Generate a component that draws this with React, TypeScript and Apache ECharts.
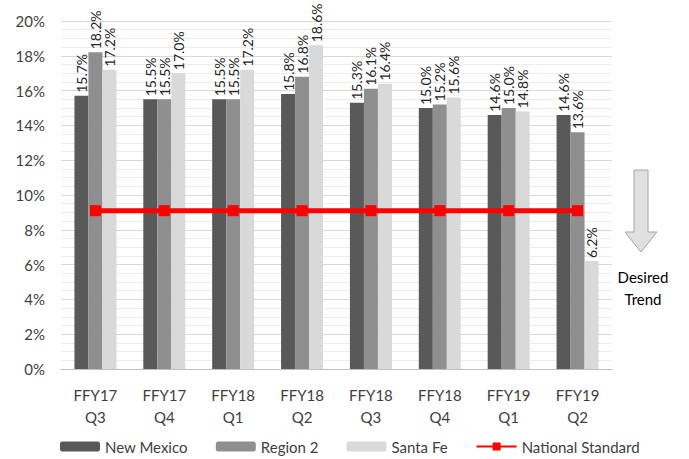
import React, { useEffect, useRef } from "react";
import * as echarts from "echarts";

const categories = ["FFY17\nQ3", "FFY17\nQ4", "FFY18\nQ1", "FFY18\nQ2", "FFY18\nQ3", "FFY18\nQ4", "FFY19\nQ1", "FFY19\nQ2"];
const newMexico = [15.7, 15.5, 15.5, 15.8, 15.3, 15.0, 14.6, 14.6];
const region2 = [18.2, 15.5, 15.5, 16.8, 16.1, 15.2, 15.0, 13.6];
const santaFe = [17.2, 17.0, 17.2, 18.6, 16.4, 15.6, 14.8, 6.2];
const nationalStandard = [9.1, 9.1, 9.1, 9.1, 9.1, 9.1, 9.1, 9.1];

const FONT = "Lato, 'Open Sans', sans-serif";

export default function App() {
  const ref = useRef<HTMLDivElement>(null);
  useEffect(() => {
    if (!ref.current) return;
    const chart = echarts.init(ref.current, null, { renderer: "svg" });
    const barLabel = {
      show: true,
      position: "top" as const,
      rotate: 90,
      align: "left" as const,
      verticalAlign: "middle" as const,
      distance: 3,
      fontSize: 14,
      fontFamily: FONT,
      color: "#262626",
      formatter: (p: any) => p.value.toFixed(1) + "%",
    };
    chart.setOption({
      animation: false,
      textStyle: { fontFamily: FONT },
      grid: { left: 61, right: 77, top: 21, bottom: 90, containLabel: false },
      legend: {
        bottom: 0,
        left: 55,
        itemGap: 28,
        itemWidth: 40,
        itemHeight: 10,
        textStyle: { fontSize: 15, color: "#404040", fontFamily: FONT },
        data: [
          { name: "New Mexico" },
          { name: "Region 2" },
          { name: "Santa Fe" },
          { name: "National Standard" },
        ],
      },
      xAxis: {
        type: "category",
        data: categories,
        axisTick: { show: false },
        axisLine: { lineStyle: { color: "#bfbfbf" } },
        axisLabel: { fontSize: 15, color: "#404040", lineHeight: 22, margin: 15, fontFamily: FONT },
      },
      yAxis: {
        type: "value",
        min: 0,
        max: 20,
        interval: 2,
        axisLabel: { formatter: "{value}%", fontSize: 15, color: "#404040", margin: 16, fontFamily: FONT },
        axisLine: { show: false },
        axisTick: { show: false },
        splitLine: { lineStyle: { color: "#d9d9d9", width: 1 } },
        minorTick: { show: false, splitNumber: 4 },
        minorSplitLine: { show: true, lineStyle: { color: "#ececec", width: 1 } },
      },
      series: [
        {
          name: "New Mexico",
          type: "bar",
          data: newMexico,
          itemStyle: { color: "#595959" },
          barGap: "0%",
          barCategoryGap: "39%",
          label: barLabel,
        },
        {
          name: "Region 2",
          type: "bar",
          data: region2,
          itemStyle: { color: "#8f8f8f" },
          label: barLabel,
        },
        {
          name: "Santa Fe",
          type: "bar",
          data: santaFe,
          itemStyle: { color: "#d9d9d9" },
          label: barLabel,
        },
        {
          name: "National Standard",
          type: "line",
          data: nationalStandard,
          symbol: "rect",
          symbolSize: 11,
          itemStyle: { color: "#ff0000" },
          lineStyle: { color: "#ff0000", width: 5 },
          z: 5,
        },
      ],
      graphic: [
        {
          type: "polygon",
          shape: {
            points: [
              [634, 170], [648, 170], [648, 232], [657, 232], [641, 252], [625, 232], [634, 232],
            ],
          },
          style: { fill: "#e0e0e0", stroke: "#a6a6a6", lineWidth: 1 },
        },
        {
          type: "text",
          x: 643,
          y: 266,
          style: {
            text: "Desired\nTrend",
            fontSize: 15,
            fontFamily: FONT,
            fill: "#000000",
            align: "center",
            lineHeight: 22,
          },
        },
      ],
    });
    return () => chart.dispose();
  }, []);
  return <div ref={ref} style={{ width: 689, height: 459, position: "absolute", left: 0, top: 0 }} />;
}
